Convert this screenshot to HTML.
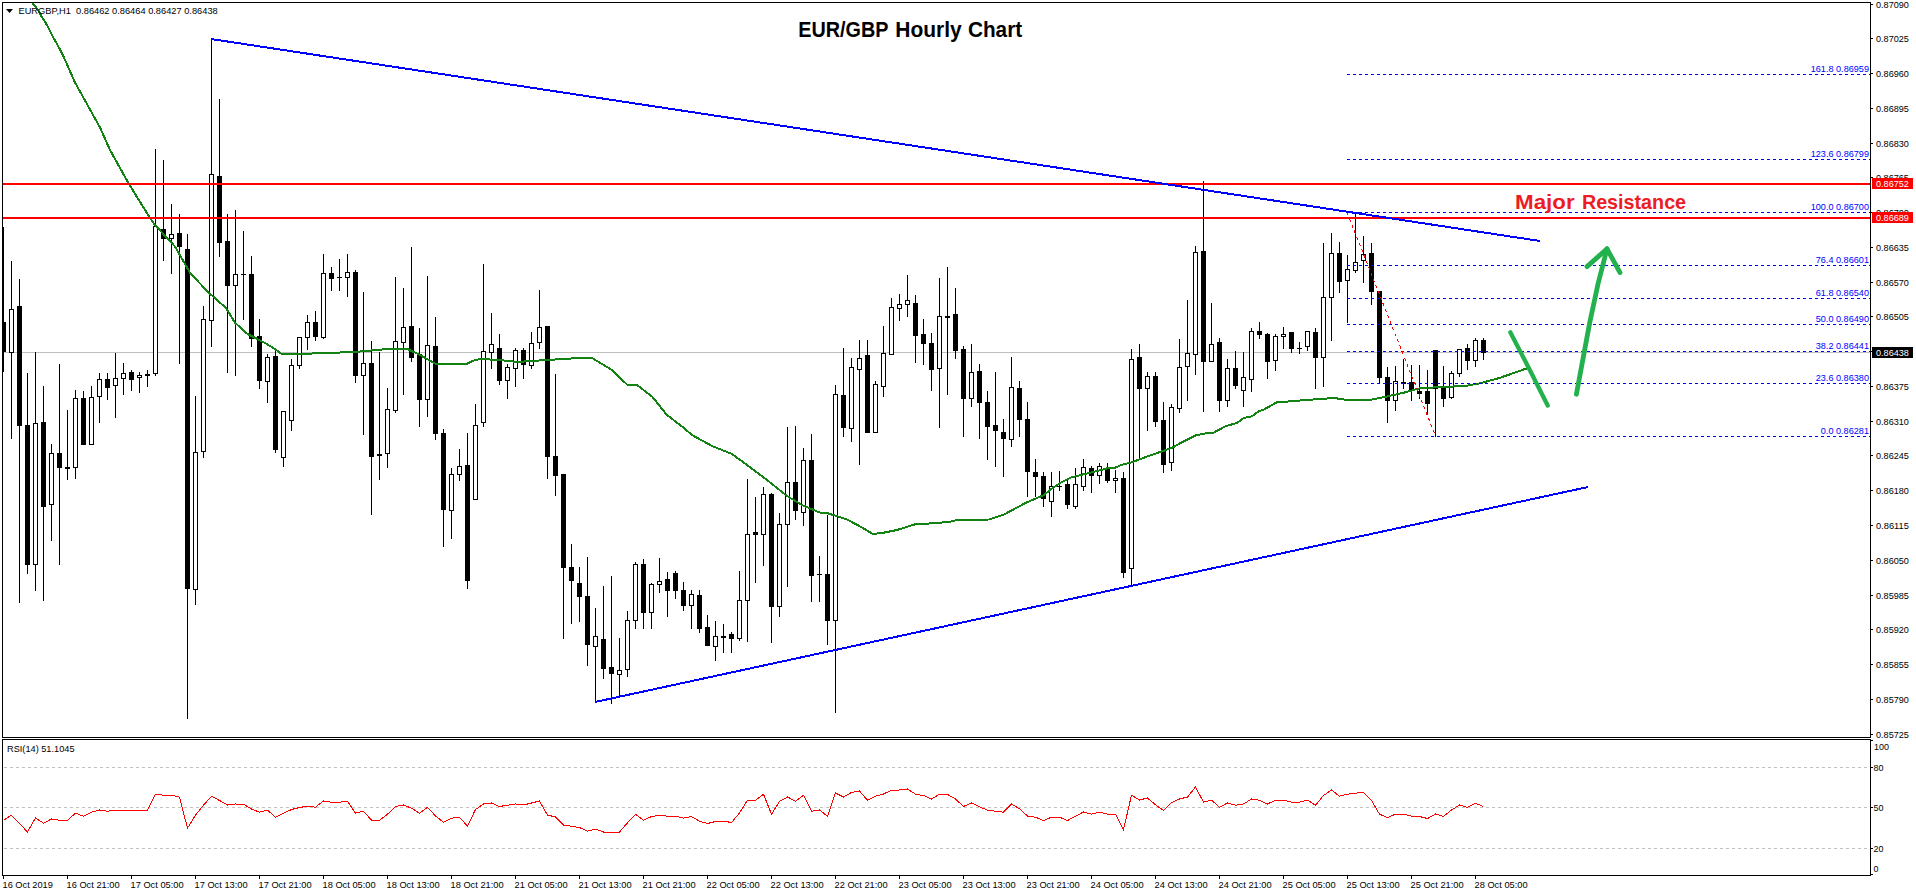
<!DOCTYPE html><html><head><meta charset="utf-8"><title>EUR/GBP Hourly Chart</title>
<style>html,body{margin:0;padding:0;background:#fff}svg{display:block}text{font-family:"Liberation Sans",sans-serif}.s{font-size:9.8px}</style></head><body>
<svg width="1916" height="896" viewBox="0 0 1916 896">
<rect width="1916" height="896" fill="#fff"/>
<defs><clipPath id="cm"><rect x="3" y="3" width="1867" height="734"/></clipPath></defs>
<g clip-path="url(#cm)" shape-rendering="crispEdges">
<rect x="3" y="352" width="1867" height="1" fill="#c0c0c0"/>
<rect x="3" y="227" width="1" height="145" fill="#000"/>
<rect x="1" y="322" width="5" height="30" fill="#000"/>
<rect x="11" y="261" width="1" height="178" fill="#000"/>
<rect x="9.5" y="309.5" width="4" height="43" fill="#fff" stroke="#000" stroke-width="1"/>
<rect x="19" y="279" width="1" height="324" fill="#000"/>
<rect x="17" y="306" width="5" height="120" fill="#000"/>
<rect x="27" y="373" width="1" height="201" fill="#000"/>
<rect x="25" y="425" width="5" height="140" fill="#000"/>
<rect x="35" y="352" width="1" height="239" fill="#000"/>
<rect x="33.5" y="423.5" width="4" height="141" fill="#fff" stroke="#000" stroke-width="1"/>
<rect x="43" y="386" width="1" height="215" fill="#000"/>
<rect x="41" y="422" width="5" height="85" fill="#000"/>
<rect x="51" y="444" width="1" height="97" fill="#000"/>
<rect x="49.5" y="453.5" width="4" height="51" fill="#fff" stroke="#000" stroke-width="1"/>
<rect x="59" y="364" width="1" height="201" fill="#000"/>
<rect x="57" y="453" width="5" height="15" fill="#000"/>
<rect x="67" y="410" width="1" height="70" fill="#000"/>
<rect x="65" y="467" width="5" height="2" fill="#000"/>
<rect x="75" y="390" width="1" height="89" fill="#000"/>
<rect x="73.5" y="398.5" width="4" height="69" fill="#fff" stroke="#000" stroke-width="1"/>
<rect x="83" y="391" width="1" height="54" fill="#000"/>
<rect x="81" y="398" width="5" height="47" fill="#000"/>
<rect x="91" y="386" width="1" height="59" fill="#000"/>
<rect x="89.5" y="397.5" width="4" height="47" fill="#fff" stroke="#000" stroke-width="1"/>
<rect x="99" y="373" width="1" height="50" fill="#000"/>
<rect x="97.5" y="379.5" width="4" height="17" fill="#fff" stroke="#000" stroke-width="1"/>
<rect x="107" y="373" width="1" height="27" fill="#000"/>
<rect x="105" y="379" width="5" height="9" fill="#000"/>
<rect x="115" y="353" width="1" height="65" fill="#000"/>
<rect x="113.5" y="378.5" width="4" height="7" fill="#fff" stroke="#000" stroke-width="1"/>
<rect x="123" y="363" width="1" height="32" fill="#000"/>
<rect x="121.5" y="373.5" width="4" height="5" fill="#fff" stroke="#000" stroke-width="1"/>
<rect x="131" y="370" width="1" height="21" fill="#000"/>
<rect x="129" y="372" width="5" height="8" fill="#000"/>
<rect x="139" y="372" width="1" height="21" fill="#000"/>
<rect x="137.5" y="375.5" width="4" height="2" fill="#fff" stroke="#000" stroke-width="1"/>
<rect x="147" y="370" width="1" height="17" fill="#000"/>
<rect x="145" y="374" width="5" height="2" fill="#000"/>
<rect x="155" y="149" width="1" height="227" fill="#000"/>
<rect x="153.5" y="226.5" width="4" height="147" fill="#fff" stroke="#000" stroke-width="1"/>
<rect x="163" y="160" width="1" height="101" fill="#000"/>
<rect x="161" y="229" width="5" height="10" fill="#000"/>
<rect x="171" y="204" width="1" height="70" fill="#000"/>
<rect x="169.5" y="234.5" width="4" height="4" fill="#fff" stroke="#000" stroke-width="1"/>
<rect x="179" y="214" width="1" height="150" fill="#000"/>
<rect x="177" y="233" width="5" height="14" fill="#000"/>
<rect x="187" y="234" width="1" height="485" fill="#000"/>
<rect x="185" y="249" width="5" height="340" fill="#000"/>
<rect x="195" y="396" width="1" height="209" fill="#000"/>
<rect x="193.5" y="452.5" width="4" height="137" fill="#fff" stroke="#000" stroke-width="1"/>
<rect x="203" y="306" width="1" height="152" fill="#000"/>
<rect x="201.5" y="319.5" width="4" height="132" fill="#fff" stroke="#000" stroke-width="1"/>
<rect x="211" y="38" width="1" height="309" fill="#000"/>
<rect x="209.5" y="174.5" width="4" height="146" fill="#fff" stroke="#000" stroke-width="1"/>
<rect x="219" y="99" width="1" height="158" fill="#000"/>
<rect x="217" y="176" width="5" height="67" fill="#000"/>
<rect x="227" y="214" width="1" height="159" fill="#000"/>
<rect x="225" y="241" width="5" height="45" fill="#000"/>
<rect x="235" y="210" width="1" height="166" fill="#000"/>
<rect x="233.5" y="274.5" width="4" height="11" fill="#fff" stroke="#000" stroke-width="1"/>
<rect x="243" y="231" width="1" height="89" fill="#000"/>
<rect x="241" y="274" width="5" height="1" fill="#000"/>
<rect x="251" y="256" width="1" height="91" fill="#000"/>
<rect x="249" y="274" width="5" height="65" fill="#000"/>
<rect x="259" y="319" width="1" height="70" fill="#000"/>
<rect x="257" y="336" width="5" height="45" fill="#000"/>
<rect x="267" y="354" width="1" height="49" fill="#000"/>
<rect x="265.5" y="357.5" width="4" height="24" fill="#fff" stroke="#000" stroke-width="1"/>
<rect x="275" y="348" width="1" height="105" fill="#000"/>
<rect x="273" y="356" width="5" height="94" fill="#000"/>
<rect x="283" y="411" width="1" height="56" fill="#000"/>
<rect x="281.5" y="411.5" width="4" height="46" fill="#fff" stroke="#000" stroke-width="1"/>
<rect x="291" y="359" width="1" height="72" fill="#000"/>
<rect x="289.5" y="365.5" width="4" height="55" fill="#fff" stroke="#000" stroke-width="1"/>
<rect x="299" y="337" width="1" height="32" fill="#000"/>
<rect x="297.5" y="337.5" width="4" height="28" fill="#fff" stroke="#000" stroke-width="1"/>
<rect x="307" y="315" width="1" height="35" fill="#000"/>
<rect x="305.5" y="322.5" width="4" height="15" fill="#fff" stroke="#000" stroke-width="1"/>
<rect x="315" y="311" width="1" height="30" fill="#000"/>
<rect x="313" y="322" width="5" height="15" fill="#000"/>
<rect x="323" y="254" width="1" height="85" fill="#000"/>
<rect x="321.5" y="273.5" width="4" height="64" fill="#fff" stroke="#000" stroke-width="1"/>
<rect x="331" y="267" width="1" height="24" fill="#000"/>
<rect x="329" y="273" width="5" height="6" fill="#000"/>
<rect x="339" y="259" width="1" height="32" fill="#000"/>
<rect x="337" y="277" width="5" height="1" fill="#000"/>
<rect x="347" y="254" width="1" height="43" fill="#000"/>
<rect x="345.5" y="272.5" width="4" height="5" fill="#fff" stroke="#000" stroke-width="1"/>
<rect x="355" y="270" width="1" height="113" fill="#000"/>
<rect x="353" y="272" width="5" height="104" fill="#000"/>
<rect x="363" y="292" width="1" height="143" fill="#000"/>
<rect x="361.5" y="363.5" width="4" height="12" fill="#fff" stroke="#000" stroke-width="1"/>
<rect x="371" y="341" width="1" height="174" fill="#000"/>
<rect x="369" y="363" width="5" height="94" fill="#000"/>
<rect x="379" y="352" width="1" height="128" fill="#000"/>
<rect x="377" y="454" width="5" height="2" fill="#000"/>
<rect x="387" y="388" width="1" height="80" fill="#000"/>
<rect x="385.5" y="409.5" width="4" height="44" fill="#fff" stroke="#000" stroke-width="1"/>
<rect x="395" y="277" width="1" height="136" fill="#000"/>
<rect x="393.5" y="341.5" width="4" height="69" fill="#fff" stroke="#000" stroke-width="1"/>
<rect x="403" y="288" width="1" height="107" fill="#000"/>
<rect x="401.5" y="327.5" width="4" height="15" fill="#fff" stroke="#000" stroke-width="1"/>
<rect x="411" y="247" width="1" height="115" fill="#000"/>
<rect x="409" y="326" width="5" height="32" fill="#000"/>
<rect x="419" y="328" width="1" height="99" fill="#000"/>
<rect x="417" y="354" width="5" height="46" fill="#000"/>
<rect x="427" y="276" width="1" height="141" fill="#000"/>
<rect x="425.5" y="345.5" width="4" height="54" fill="#fff" stroke="#000" stroke-width="1"/>
<rect x="435" y="317" width="1" height="123" fill="#000"/>
<rect x="433" y="346" width="5" height="88" fill="#000"/>
<rect x="443" y="429" width="1" height="118" fill="#000"/>
<rect x="441" y="433" width="5" height="77" fill="#000"/>
<rect x="451" y="468" width="1" height="71" fill="#000"/>
<rect x="449.5" y="474.5" width="4" height="36" fill="#fff" stroke="#000" stroke-width="1"/>
<rect x="459" y="449" width="1" height="32" fill="#000"/>
<rect x="457.5" y="466.5" width="4" height="8" fill="#fff" stroke="#000" stroke-width="1"/>
<rect x="467" y="433" width="1" height="156" fill="#000"/>
<rect x="465" y="465" width="5" height="116" fill="#000"/>
<rect x="475" y="404" width="1" height="96" fill="#000"/>
<rect x="473.5" y="425.5" width="4" height="74" fill="#fff" stroke="#000" stroke-width="1"/>
<rect x="483" y="264" width="1" height="163" fill="#000"/>
<rect x="481.5" y="351.5" width="4" height="71" fill="#fff" stroke="#000" stroke-width="1"/>
<rect x="491" y="313" width="1" height="56" fill="#000"/>
<rect x="489.5" y="344.5" width="4" height="8" fill="#fff" stroke="#000" stroke-width="1"/>
<rect x="499" y="334" width="1" height="51" fill="#000"/>
<rect x="497" y="348" width="5" height="33" fill="#000"/>
<rect x="507" y="364" width="1" height="35" fill="#000"/>
<rect x="505.5" y="367.5" width="4" height="13" fill="#fff" stroke="#000" stroke-width="1"/>
<rect x="515" y="348" width="1" height="39" fill="#000"/>
<rect x="513.5" y="350.5" width="4" height="18" fill="#fff" stroke="#000" stroke-width="1"/>
<rect x="523" y="348" width="1" height="31" fill="#000"/>
<rect x="521" y="350" width="5" height="15" fill="#000"/>
<rect x="531" y="332" width="1" height="37" fill="#000"/>
<rect x="529.5" y="343.5" width="4" height="22" fill="#fff" stroke="#000" stroke-width="1"/>
<rect x="539" y="290" width="1" height="59" fill="#000"/>
<rect x="537.5" y="327.5" width="4" height="15" fill="#fff" stroke="#000" stroke-width="1"/>
<rect x="547" y="326" width="1" height="153" fill="#000"/>
<rect x="545" y="326" width="5" height="131" fill="#000"/>
<rect x="555" y="374" width="1" height="122" fill="#000"/>
<rect x="553" y="456" width="5" height="20" fill="#000"/>
<rect x="563" y="474" width="1" height="165" fill="#000"/>
<rect x="561" y="474" width="5" height="94" fill="#000"/>
<rect x="571" y="544" width="1" height="80" fill="#000"/>
<rect x="569" y="567" width="5" height="14" fill="#000"/>
<rect x="579" y="567" width="1" height="55" fill="#000"/>
<rect x="577" y="583" width="5" height="14" fill="#000"/>
<rect x="587" y="557" width="1" height="109" fill="#000"/>
<rect x="585" y="596" width="5" height="49" fill="#000"/>
<rect x="595" y="608" width="1" height="95" fill="#000"/>
<rect x="593.5" y="636.5" width="4" height="10" fill="#fff" stroke="#000" stroke-width="1"/>
<rect x="603" y="586" width="1" height="93" fill="#000"/>
<rect x="601" y="639" width="5" height="30" fill="#000"/>
<rect x="611" y="576" width="1" height="128" fill="#000"/>
<rect x="609" y="667" width="5" height="7" fill="#000"/>
<rect x="619" y="638" width="1" height="59" fill="#000"/>
<rect x="617.5" y="670.5" width="4" height="4" fill="#fff" stroke="#000" stroke-width="1"/>
<rect x="627" y="611" width="1" height="66" fill="#000"/>
<rect x="625.5" y="620.5" width="4" height="49" fill="#fff" stroke="#000" stroke-width="1"/>
<rect x="635" y="562" width="1" height="67" fill="#000"/>
<rect x="633.5" y="564.5" width="4" height="56" fill="#fff" stroke="#000" stroke-width="1"/>
<rect x="643" y="559" width="1" height="70" fill="#000"/>
<rect x="641" y="564" width="5" height="49" fill="#000"/>
<rect x="651" y="583" width="1" height="46" fill="#000"/>
<rect x="649.5" y="584.5" width="4" height="28" fill="#fff" stroke="#000" stroke-width="1"/>
<rect x="659" y="558" width="1" height="35" fill="#000"/>
<rect x="657.5" y="581.5" width="4" height="3" fill="#fff" stroke="#000" stroke-width="1"/>
<rect x="667" y="572" width="1" height="45" fill="#000"/>
<rect x="665" y="579" width="5" height="12" fill="#000"/>
<rect x="675" y="571" width="1" height="28" fill="#000"/>
<rect x="673" y="573" width="5" height="18" fill="#000"/>
<rect x="683" y="582" width="1" height="29" fill="#000"/>
<rect x="681" y="590" width="5" height="16" fill="#000"/>
<rect x="691" y="590" width="1" height="39" fill="#000"/>
<rect x="689.5" y="594.5" width="4" height="11" fill="#fff" stroke="#000" stroke-width="1"/>
<rect x="699" y="590" width="1" height="43" fill="#000"/>
<rect x="697" y="595" width="5" height="34" fill="#000"/>
<rect x="707" y="615" width="1" height="31" fill="#000"/>
<rect x="705" y="627" width="5" height="19" fill="#000"/>
<rect x="715" y="621" width="1" height="40" fill="#000"/>
<rect x="713.5" y="636.5" width="4" height="10" fill="#fff" stroke="#000" stroke-width="1"/>
<rect x="723" y="624" width="1" height="29" fill="#000"/>
<rect x="721" y="636" width="5" height="2" fill="#000"/>
<rect x="731" y="632" width="1" height="21" fill="#000"/>
<rect x="729" y="634" width="5" height="5" fill="#000"/>
<rect x="739" y="571" width="1" height="70" fill="#000"/>
<rect x="737.5" y="600.5" width="4" height="38" fill="#fff" stroke="#000" stroke-width="1"/>
<rect x="747" y="479" width="1" height="163" fill="#000"/>
<rect x="745.5" y="534.5" width="4" height="66" fill="#fff" stroke="#000" stroke-width="1"/>
<rect x="755" y="497" width="1" height="86" fill="#000"/>
<rect x="753" y="532" width="5" height="3" fill="#000"/>
<rect x="763" y="487" width="1" height="79" fill="#000"/>
<rect x="761.5" y="494.5" width="4" height="40" fill="#fff" stroke="#000" stroke-width="1"/>
<rect x="771" y="493" width="1" height="150" fill="#000"/>
<rect x="769" y="494" width="5" height="113" fill="#000"/>
<rect x="779" y="513" width="1" height="104" fill="#000"/>
<rect x="777.5" y="524.5" width="4" height="82" fill="#fff" stroke="#000" stroke-width="1"/>
<rect x="787" y="427" width="1" height="160" fill="#000"/>
<rect x="785.5" y="482.5" width="4" height="42" fill="#fff" stroke="#000" stroke-width="1"/>
<rect x="795" y="426" width="1" height="94" fill="#000"/>
<rect x="793" y="482" width="5" height="29" fill="#000"/>
<rect x="803" y="448" width="1" height="78" fill="#000"/>
<rect x="801.5" y="460.5" width="4" height="52" fill="#fff" stroke="#000" stroke-width="1"/>
<rect x="811" y="434" width="1" height="168" fill="#000"/>
<rect x="809" y="460" width="5" height="116" fill="#000"/>
<rect x="819" y="556" width="1" height="46" fill="#000"/>
<rect x="817" y="574" width="5" height="1" fill="#000"/>
<rect x="827" y="515" width="1" height="130" fill="#000"/>
<rect x="825" y="574" width="5" height="47" fill="#000"/>
<rect x="835" y="385" width="1" height="328" fill="#000"/>
<rect x="833.5" y="394.5" width="4" height="226" fill="#fff" stroke="#000" stroke-width="1"/>
<rect x="843" y="348" width="1" height="89" fill="#000"/>
<rect x="841" y="395" width="5" height="33" fill="#000"/>
<rect x="851" y="358" width="1" height="84" fill="#000"/>
<rect x="849.5" y="367.5" width="4" height="61" fill="#fff" stroke="#000" stroke-width="1"/>
<rect x="859" y="340" width="1" height="125" fill="#000"/>
<rect x="857.5" y="358.5" width="4" height="11" fill="#fff" stroke="#000" stroke-width="1"/>
<rect x="867" y="340" width="1" height="93" fill="#000"/>
<rect x="865" y="355" width="5" height="78" fill="#000"/>
<rect x="875" y="381" width="1" height="52" fill="#000"/>
<rect x="873.5" y="384.5" width="4" height="48" fill="#fff" stroke="#000" stroke-width="1"/>
<rect x="883" y="326" width="1" height="71" fill="#000"/>
<rect x="881.5" y="353.5" width="4" height="33" fill="#fff" stroke="#000" stroke-width="1"/>
<rect x="891" y="298" width="1" height="57" fill="#000"/>
<rect x="889.5" y="307.5" width="4" height="47" fill="#fff" stroke="#000" stroke-width="1"/>
<rect x="899" y="294" width="1" height="27" fill="#000"/>
<rect x="897.5" y="304.5" width="4" height="4" fill="#fff" stroke="#000" stroke-width="1"/>
<rect x="907" y="275" width="1" height="42" fill="#000"/>
<rect x="905.5" y="300.5" width="4" height="4" fill="#fff" stroke="#000" stroke-width="1"/>
<rect x="915" y="295" width="1" height="68" fill="#000"/>
<rect x="913" y="303" width="5" height="33" fill="#000"/>
<rect x="923" y="319" width="1" height="46" fill="#000"/>
<rect x="921" y="334" width="5" height="10" fill="#000"/>
<rect x="931" y="333" width="1" height="58" fill="#000"/>
<rect x="929" y="343" width="5" height="27" fill="#000"/>
<rect x="939" y="278" width="1" height="150" fill="#000"/>
<rect x="937.5" y="316.5" width="4" height="52" fill="#fff" stroke="#000" stroke-width="1"/>
<rect x="947" y="267" width="1" height="128" fill="#000"/>
<rect x="945" y="316" width="5" height="2" fill="#000"/>
<rect x="955" y="288" width="1" height="71" fill="#000"/>
<rect x="953" y="314" width="5" height="37" fill="#000"/>
<rect x="963" y="346" width="1" height="91" fill="#000"/>
<rect x="961" y="349" width="5" height="50" fill="#000"/>
<rect x="971" y="344" width="1" height="63" fill="#000"/>
<rect x="969.5" y="372.5" width="4" height="26" fill="#fff" stroke="#000" stroke-width="1"/>
<rect x="979" y="364" width="1" height="75" fill="#000"/>
<rect x="977" y="371" width="5" height="32" fill="#000"/>
<rect x="987" y="391" width="1" height="69" fill="#000"/>
<rect x="985" y="402" width="5" height="25" fill="#000"/>
<rect x="995" y="372" width="1" height="95" fill="#000"/>
<rect x="993" y="425" width="5" height="6" fill="#000"/>
<rect x="1003" y="419" width="1" height="58" fill="#000"/>
<rect x="1001" y="432" width="5" height="7" fill="#000"/>
<rect x="1011" y="357" width="1" height="90" fill="#000"/>
<rect x="1009.5" y="387.5" width="4" height="52" fill="#fff" stroke="#000" stroke-width="1"/>
<rect x="1019" y="381" width="1" height="56" fill="#000"/>
<rect x="1017" y="388" width="5" height="32" fill="#000"/>
<rect x="1027" y="402" width="1" height="95" fill="#000"/>
<rect x="1025" y="419" width="5" height="53" fill="#000"/>
<rect x="1035" y="459" width="1" height="38" fill="#000"/>
<rect x="1033" y="472" width="5" height="5" fill="#000"/>
<rect x="1043" y="472" width="1" height="35" fill="#000"/>
<rect x="1041" y="476" width="5" height="23" fill="#000"/>
<rect x="1051" y="472" width="1" height="45" fill="#000"/>
<rect x="1049.5" y="486.5" width="4" height="15" fill="#fff" stroke="#000" stroke-width="1"/>
<rect x="1059" y="471" width="1" height="20" fill="#000"/>
<rect x="1057" y="486" width="5" height="1" fill="#000"/>
<rect x="1067" y="478" width="1" height="31" fill="#000"/>
<rect x="1065" y="484" width="5" height="21" fill="#000"/>
<rect x="1075" y="468" width="1" height="41" fill="#000"/>
<rect x="1073.5" y="484.5" width="4" height="22" fill="#fff" stroke="#000" stroke-width="1"/>
<rect x="1083" y="459" width="1" height="32" fill="#000"/>
<rect x="1081.5" y="467.5" width="4" height="19" fill="#fff" stroke="#000" stroke-width="1"/>
<rect x="1091" y="466" width="1" height="27" fill="#000"/>
<rect x="1089" y="468" width="5" height="8" fill="#000"/>
<rect x="1099" y="463" width="1" height="21" fill="#000"/>
<rect x="1097.5" y="466.5" width="4" height="9" fill="#fff" stroke="#000" stroke-width="1"/>
<rect x="1107" y="463" width="1" height="20" fill="#000"/>
<rect x="1105" y="468" width="5" height="13" fill="#000"/>
<rect x="1115" y="470" width="1" height="23" fill="#000"/>
<rect x="1113.5" y="478.5" width="4" height="2" fill="#fff" stroke="#000" stroke-width="1"/>
<rect x="1123" y="472" width="1" height="106" fill="#000"/>
<rect x="1121" y="478" width="5" height="95" fill="#000"/>
<rect x="1131" y="349" width="1" height="238" fill="#000"/>
<rect x="1129.5" y="359.5" width="4" height="209" fill="#fff" stroke="#000" stroke-width="1"/>
<rect x="1139" y="344" width="1" height="116" fill="#000"/>
<rect x="1137" y="357" width="5" height="32" fill="#000"/>
<rect x="1147" y="372" width="1" height="59" fill="#000"/>
<rect x="1145.5" y="376.5" width="4" height="12" fill="#fff" stroke="#000" stroke-width="1"/>
<rect x="1155" y="372" width="1" height="55" fill="#000"/>
<rect x="1153" y="376" width="5" height="46" fill="#000"/>
<rect x="1163" y="402" width="1" height="71" fill="#000"/>
<rect x="1161" y="420" width="5" height="45" fill="#000"/>
<rect x="1171" y="404" width="1" height="67" fill="#000"/>
<rect x="1169.5" y="407.5" width="4" height="55" fill="#fff" stroke="#000" stroke-width="1"/>
<rect x="1179" y="339" width="1" height="74" fill="#000"/>
<rect x="1177.5" y="367.5" width="4" height="41" fill="#fff" stroke="#000" stroke-width="1"/>
<rect x="1187" y="300" width="1" height="101" fill="#000"/>
<rect x="1185.5" y="353.5" width="4" height="13" fill="#fff" stroke="#000" stroke-width="1"/>
<rect x="1195" y="246" width="1" height="129" fill="#000"/>
<rect x="1193.5" y="252.5" width="4" height="102" fill="#fff" stroke="#000" stroke-width="1"/>
<rect x="1203" y="181" width="1" height="231" fill="#000"/>
<rect x="1201" y="251" width="5" height="111" fill="#000"/>
<rect x="1211" y="303" width="1" height="59" fill="#000"/>
<rect x="1209.5" y="344.5" width="4" height="17" fill="#fff" stroke="#000" stroke-width="1"/>
<rect x="1219" y="338" width="1" height="74" fill="#000"/>
<rect x="1217" y="342" width="5" height="59" fill="#000"/>
<rect x="1227" y="359" width="1" height="48" fill="#000"/>
<rect x="1225.5" y="368.5" width="4" height="32" fill="#fff" stroke="#000" stroke-width="1"/>
<rect x="1235" y="351" width="1" height="38" fill="#000"/>
<rect x="1233" y="368" width="5" height="18" fill="#000"/>
<rect x="1243" y="352" width="1" height="55" fill="#000"/>
<rect x="1241.5" y="377.5" width="4" height="13" fill="#fff" stroke="#000" stroke-width="1"/>
<rect x="1251" y="328" width="1" height="64" fill="#000"/>
<rect x="1249.5" y="331.5" width="4" height="48" fill="#fff" stroke="#000" stroke-width="1"/>
<rect x="1259" y="322" width="1" height="17" fill="#000"/>
<rect x="1257" y="331" width="5" height="4" fill="#000"/>
<rect x="1267" y="333" width="1" height="46" fill="#000"/>
<rect x="1265" y="334" width="5" height="28" fill="#000"/>
<rect x="1275" y="334" width="1" height="37" fill="#000"/>
<rect x="1273.5" y="336.5" width="4" height="24" fill="#fff" stroke="#000" stroke-width="1"/>
<rect x="1283" y="327" width="1" height="22" fill="#000"/>
<rect x="1281.5" y="334.5" width="4" height="2" fill="#fff" stroke="#000" stroke-width="1"/>
<rect x="1291" y="332" width="1" height="21" fill="#000"/>
<rect x="1289" y="332" width="5" height="17" fill="#000"/>
<rect x="1299" y="342" width="1" height="12" fill="#000"/>
<rect x="1297" y="348" width="5" height="1" fill="#000"/>
<rect x="1307" y="331" width="1" height="20" fill="#000"/>
<rect x="1305.5" y="331.5" width="4" height="15" fill="#fff" stroke="#000" stroke-width="1"/>
<rect x="1315" y="328" width="1" height="61" fill="#000"/>
<rect x="1313" y="332" width="5" height="26" fill="#000"/>
<rect x="1323" y="243" width="1" height="144" fill="#000"/>
<rect x="1321.5" y="297.5" width="4" height="60" fill="#fff" stroke="#000" stroke-width="1"/>
<rect x="1331" y="233" width="1" height="108" fill="#000"/>
<rect x="1329.5" y="253.5" width="4" height="44" fill="#fff" stroke="#000" stroke-width="1"/>
<rect x="1339" y="242" width="1" height="51" fill="#000"/>
<rect x="1337" y="253" width="5" height="29" fill="#000"/>
<rect x="1347" y="255" width="1" height="68" fill="#000"/>
<rect x="1345.5" y="269.5" width="4" height="11" fill="#fff" stroke="#000" stroke-width="1"/>
<rect x="1355" y="214" width="1" height="59" fill="#000"/>
<rect x="1353.5" y="262.5" width="4" height="8" fill="#fff" stroke="#000" stroke-width="1"/>
<rect x="1363" y="236" width="1" height="47" fill="#000"/>
<rect x="1361.5" y="254.5" width="4" height="6" fill="#fff" stroke="#000" stroke-width="1"/>
<rect x="1371" y="243" width="1" height="62" fill="#000"/>
<rect x="1369" y="253" width="5" height="39" fill="#000"/>
<rect x="1379" y="291" width="1" height="93" fill="#000"/>
<rect x="1377" y="291" width="5" height="87" fill="#000"/>
<rect x="1387" y="367" width="1" height="56" fill="#000"/>
<rect x="1385" y="377" width="5" height="24" fill="#000"/>
<rect x="1395" y="366" width="1" height="45" fill="#000"/>
<rect x="1393.5" y="381.5" width="4" height="19" fill="#fff" stroke="#000" stroke-width="1"/>
<rect x="1403" y="359" width="1" height="30" fill="#000"/>
<rect x="1401" y="382" width="5" height="2" fill="#000"/>
<rect x="1411" y="365" width="1" height="36" fill="#000"/>
<rect x="1409" y="382" width="5" height="9" fill="#000"/>
<rect x="1419" y="365" width="1" height="34" fill="#000"/>
<rect x="1417" y="391" width="5" height="3" fill="#000"/>
<rect x="1427" y="370" width="1" height="45" fill="#000"/>
<rect x="1425" y="391" width="5" height="13" fill="#000"/>
<rect x="1435" y="350" width="1" height="87" fill="#000"/>
<rect x="1433" y="350" width="5" height="39" fill="#000"/>
<rect x="1443" y="366" width="1" height="41" fill="#000"/>
<rect x="1441" y="386" width="5" height="13" fill="#000"/>
<rect x="1451" y="371" width="1" height="28" fill="#000"/>
<rect x="1449.5" y="373.5" width="4" height="24" fill="#fff" stroke="#000" stroke-width="1"/>
<rect x="1459" y="349" width="1" height="28" fill="#000"/>
<rect x="1457.5" y="349.5" width="4" height="24" fill="#fff" stroke="#000" stroke-width="1"/>
<rect x="1467" y="344" width="1" height="26" fill="#000"/>
<rect x="1465" y="348" width="5" height="13" fill="#000"/>
<rect x="1475" y="338" width="1" height="29" fill="#000"/>
<rect x="1473.5" y="340.5" width="4" height="20" fill="#fff" stroke="#000" stroke-width="1"/>
<rect x="1483" y="338" width="1" height="22" fill="#000"/>
<rect x="1481" y="340" width="5" height="13" fill="#000"/>
<polyline points="32.0,2.5 37.6,9.4 42.6,18.2 47.0,25.0 52.6,36.3 57.6,45.1 63.3,56.0 75.0,82.5 100.0,127.5 110.0,150.0 128.8,183.8 150.0,218.0 155.0,225.0 175.0,246.5 190.0,272.8 207.5,291.5 226.0,308.0 235.0,322.8 247.5,334.0 265.0,343.0 275.0,349.0 282.5,354.5 300.0,354.0 325.0,353.0 355.0,352.0 387.5,349.0 407.5,349.0 420.0,355.0 435.0,363.5 467.5,363.5 472.5,361.0 479.5,359.0 500.0,360.0 517.0,362.0 547.0,360.0 579.5,358.0 592.0,358.0 612.0,370.0 627.0,384.5 637.0,385.0 652.0,396.5 667.0,415.0 682.0,426.5 692.0,435.0 712.0,446.0 732.0,454.0 747.0,465.0 767.0,480.0 787.0,496.0 802.0,505.0 819.5,512.5 827.0,513.0 847.0,519.5 862.0,527.5 873.0,534.0 882.0,533.0 897.0,530.0 914.5,524.5 937.0,523.0 951.0,521.5 956.5,520.0 989.0,519.5 1004.0,514.5 1026.5,502.5 1044.0,495.0 1051.2,489.0 1061.3,482.4 1071.3,477.4 1081.4,474.8 1094.8,471.5 1108.2,468.1 1114.9,467.8 1121.6,464.8 1131.6,462.3 1145.0,457.3 1161.8,451.4 1171.8,448.0 1181.9,442.2 1195.3,435.5 1205.3,433.5 1213.7,432.6 1225.4,426.3 1237.1,422.9 1243.8,417.9 1252.2,416.2 1258.9,411.2 1264.0,409.5 1276.5,402.5 1306.5,400.0 1334.0,398.0 1347.7,400.0 1371.0,399.7 1386.0,396.7 1403.0,392.9 1419.8,388.3 1436.5,387.3 1453.0,386.5 1466.7,385.7 1480.0,383.3 1500.0,377.8 1528.5,367.8" fill="none" stroke="#128212" stroke-width="2" stroke-linejoin="round"/>
<rect x="3" y="183" width="1867" height="2" fill="#ff0000"/>
<rect x="3" y="217" width="1867" height="2" fill="#ff0000"/>
<line x1="1347" y1="74.5" x2="1870" y2="74.5" stroke="#0000ff" stroke-width="1" stroke-dasharray="3,3"/>
<line x1="1347" y1="159.5" x2="1870" y2="159.5" stroke="#0000ff" stroke-width="1" stroke-dasharray="3,3"/>
<line x1="1347" y1="212.5" x2="1870" y2="212.5" stroke="#0000ff" stroke-width="1" stroke-dasharray="3,3"/>
<line x1="1347" y1="265.5" x2="1870" y2="265.5" stroke="#0000ff" stroke-width="1" stroke-dasharray="3,3"/>
<line x1="1347" y1="298.5" x2="1870" y2="298.5" stroke="#0000ff" stroke-width="1" stroke-dasharray="3,3"/>
<line x1="1347" y1="324.5" x2="1870" y2="324.5" stroke="#0000ff" stroke-width="1" stroke-dasharray="3,3"/>
<line x1="1347" y1="351.5" x2="1870" y2="351.5" stroke="#0000ff" stroke-width="1" stroke-dasharray="3,3"/>
<line x1="1347" y1="383.5" x2="1870" y2="383.5" stroke="#0000ff" stroke-width="1" stroke-dasharray="3,3"/>
<line x1="1347" y1="436.5" x2="1870" y2="436.5" stroke="#0000ff" stroke-width="1" stroke-dasharray="3,3"/>
<line x1="1347" y1="212.5" x2="1435.5" y2="436" stroke="#ff0000" stroke-width="1" stroke-dasharray="3.2,3.3"/>
<line x1="211" y1="39" x2="1540" y2="241" stroke="#0000ff" stroke-width="2"/>
<line x1="595" y1="702" x2="1588" y2="487" stroke="#0000ff" stroke-width="2"/>
</g>
<text x="1810.7" y="71.7" fill="#0000ff" class="s" textLength="58.3" lengthAdjust="spacingAndGlyphs">161.8 0.86959</text>
<text x="1810.7" y="156.7" fill="#0000ff" class="s" textLength="58.3" lengthAdjust="spacingAndGlyphs">123.6 0.86799</text>
<text x="1810.7" y="209.7" fill="#0000ff" class="s" textLength="58.3" lengthAdjust="spacingAndGlyphs">100.0 0.86700</text>
<text x="1815.7" y="262.7" fill="#0000ff" class="s" textLength="53.3" lengthAdjust="spacingAndGlyphs">76.4 0.86601</text>
<text x="1815.7" y="295.7" fill="#0000ff" class="s" textLength="53.3" lengthAdjust="spacingAndGlyphs">61.8 0.86540</text>
<text x="1815.7" y="321.7" fill="#0000ff" class="s" textLength="53.3" lengthAdjust="spacingAndGlyphs">50.0 0.86490</text>
<text x="1815.7" y="348.7" fill="#0000ff" class="s" textLength="53.3" lengthAdjust="spacingAndGlyphs">38.2 0.86441</text>
<text x="1815.7" y="380.7" fill="#0000ff" class="s" textLength="53.3" lengthAdjust="spacingAndGlyphs">23.6 0.86380</text>
<text x="1820.8" y="433.7" fill="#0000ff" class="s" textLength="48.2" lengthAdjust="spacingAndGlyphs">0.0 0.86281</text>
<g fill="none" stroke="#22b14c" stroke-width="4.3" stroke-linecap="round" stroke-linejoin="round">
<path d="M1510.3 332.3 L1529.3 369 L1547.7 405.5"/>
<path d="M1576.4 394.2 L1589.6 323.2 L1598 284 L1607 248.8" stroke-width="4.8"/>
<path d="M1587 266.6 L1607 248.8 L1620 272.6" stroke-width="4.8"/>
</g>
<text x="798.3" y="36.5" font-size="21.5px" font-weight="bold" fill="#000" textLength="90.2" lengthAdjust="spacingAndGlyphs">EUR/GBP</text>
<text x="895.3" y="36.5" font-size="21.5px" font-weight="bold" fill="#000" textLength="66.5" lengthAdjust="spacingAndGlyphs">Hourly</text>
<text x="967.9" y="36.5" font-size="21.5px" font-weight="bold" fill="#000" textLength="54.3" lengthAdjust="spacingAndGlyphs">Chart</text>
<text x="1515.1" y="208.5" font-size="21px" font-weight="bold" fill="#ed1c24" textLength="59.5" lengthAdjust="spacingAndGlyphs">Major</text>
<text x="1581.9" y="208.5" font-size="21px" font-weight="bold" fill="#ed1c24" textLength="104.2" lengthAdjust="spacingAndGlyphs">Resistance</text>
<path d="M6 9 H13 L9.5 13 Z" fill="#000"/>
<text x="18.5" y="13.7" fill="#000" class="s" textLength="199.2" lengthAdjust="spacingAndGlyphs" xml:space="preserve" style="white-space:pre">EURGBP,H1  0.86462 0.86464 0.86427 0.86438</text>
<g shape-rendering="crispEdges" fill="#000">
<rect x="2" y="2" width="1869" height="1"/>
<rect x="2" y="2" width="1" height="874"/>
<rect x="1870" y="2" width="1" height="874"/>
<rect x="2" y="737" width="1869" height="1"/>
<rect x="2" y="738" width="1869" height="1" fill="#fff"/>
<rect x="2" y="739" width="1869" height="1"/>
<rect x="2" y="875" width="1869" height="1"/>
<rect x="1871" y="4" width="2" height="1"/>
<rect x="1871" y="38" width="2" height="1"/>
<rect x="1871" y="73" width="2" height="1"/>
<rect x="1871" y="108" width="2" height="1"/>
<rect x="1871" y="143" width="2" height="1"/>
<rect x="1871" y="177" width="2" height="1"/>
<rect x="1871" y="212" width="2" height="1"/>
<rect x="1871" y="247" width="2" height="1"/>
<rect x="1871" y="282" width="2" height="1"/>
<rect x="1871" y="316" width="2" height="1"/>
<rect x="1871" y="351" width="2" height="1"/>
<rect x="1871" y="386" width="2" height="1"/>
<rect x="1871" y="421" width="2" height="1"/>
<rect x="1871" y="455" width="2" height="1"/>
<rect x="1871" y="490" width="2" height="1"/>
<rect x="1871" y="525" width="2" height="1"/>
<rect x="1871" y="560" width="2" height="1"/>
<rect x="1871" y="595" width="2" height="1"/>
<rect x="1871" y="629" width="2" height="1"/>
<rect x="1871" y="664" width="2" height="1"/>
<rect x="1871" y="699" width="2" height="1"/>
<rect x="1871" y="734" width="2" height="1"/>
<rect x="1871" y="740" width="2" height="1"/>
<rect x="1871" y="767" width="2" height="1"/>
<rect x="1871" y="807" width="2" height="1"/>
<rect x="1871" y="848" width="2" height="1"/>
<rect x="1871" y="874" width="2" height="1"/>
</g>
<text x="1876" y="8" fill="#000" class="s" textLength="32.9" lengthAdjust="spacingAndGlyphs">0.87090</text>
<text x="1876" y="42" fill="#000" class="s" textLength="32.9" lengthAdjust="spacingAndGlyphs">0.87025</text>
<text x="1876" y="77" fill="#000" class="s" textLength="32.9" lengthAdjust="spacingAndGlyphs">0.86960</text>
<text x="1876" y="112" fill="#000" class="s" textLength="32.9" lengthAdjust="spacingAndGlyphs">0.86895</text>
<text x="1876" y="147" fill="#000" class="s" textLength="32.9" lengthAdjust="spacingAndGlyphs">0.86830</text>
<text x="1876" y="181" fill="#000" class="s" textLength="32.9" lengthAdjust="spacingAndGlyphs">0.86765</text>
<text x="1876" y="216" fill="#000" class="s" textLength="32.9" lengthAdjust="spacingAndGlyphs">0.86700</text>
<text x="1876" y="251" fill="#000" class="s" textLength="32.9" lengthAdjust="spacingAndGlyphs">0.86635</text>
<text x="1876" y="286" fill="#000" class="s" textLength="32.9" lengthAdjust="spacingAndGlyphs">0.86570</text>
<text x="1876" y="320" fill="#000" class="s" textLength="32.9" lengthAdjust="spacingAndGlyphs">0.86505</text>
<text x="1876" y="355" fill="#000" class="s" textLength="32.9" lengthAdjust="spacingAndGlyphs">0.86440</text>
<text x="1876" y="390" fill="#000" class="s" textLength="32.9" lengthAdjust="spacingAndGlyphs">0.86375</text>
<text x="1876" y="425" fill="#000" class="s" textLength="32.9" lengthAdjust="spacingAndGlyphs">0.86310</text>
<text x="1876" y="459" fill="#000" class="s" textLength="32.9" lengthAdjust="spacingAndGlyphs">0.86245</text>
<text x="1876" y="494" fill="#000" class="s" textLength="32.9" lengthAdjust="spacingAndGlyphs">0.86180</text>
<text x="1876" y="529" fill="#000" class="s" textLength="32.9" lengthAdjust="spacingAndGlyphs">0.86115</text>
<text x="1876" y="564" fill="#000" class="s" textLength="32.9" lengthAdjust="spacingAndGlyphs">0.86050</text>
<text x="1876" y="599" fill="#000" class="s" textLength="32.9" lengthAdjust="spacingAndGlyphs">0.85985</text>
<text x="1876" y="633" fill="#000" class="s" textLength="32.9" lengthAdjust="spacingAndGlyphs">0.85920</text>
<text x="1876" y="668" fill="#000" class="s" textLength="32.9" lengthAdjust="spacingAndGlyphs">0.85855</text>
<text x="1876" y="703" fill="#000" class="s" textLength="32.9" lengthAdjust="spacingAndGlyphs">0.85790</text>
<text x="1876" y="738" fill="#000" class="s" textLength="32.9" lengthAdjust="spacingAndGlyphs">0.85725</text>
<rect x="1872" y="178" width="41" height="11" fill="#ff0000" shape-rendering="crispEdges"/>
<text x="1876" y="187.3" fill="#fff" class="s" textLength="32.9" lengthAdjust="spacingAndGlyphs">0.86752</text>
<rect x="1872" y="212" width="41" height="11" fill="#ff0000" shape-rendering="crispEdges"/>
<text x="1876" y="221.3" fill="#fff" class="s" textLength="32.9" lengthAdjust="spacingAndGlyphs">0.86689</text>
<rect x="1872" y="347" width="41" height="11" fill="#000" shape-rendering="crispEdges"/>
<text x="1876" y="356.3" fill="#fff" class="s" textLength="32.9" lengthAdjust="spacingAndGlyphs">0.86438</text>
<g shape-rendering="crispEdges">
<line x1="4" y1="767.5" x2="1868" y2="767.5" stroke="#c0c0c0" stroke-width="1" stroke-dasharray="3,3"/>
<line x1="4" y1="807.5" x2="1868" y2="807.5" stroke="#c0c0c0" stroke-width="1" stroke-dasharray="3,3"/>
<line x1="4" y1="848.5" x2="1868" y2="848.5" stroke="#c0c0c0" stroke-width="1" stroke-dasharray="3,3"/>
<polyline points="3.5,820.2 11.5,815.2 19.5,823.5 27.5,832.0 35.5,818.0 43.5,823.2 51.5,819.0 59.5,820.2 67.5,820.2 75.5,813.2 83.5,816.2 91.5,812.2 99.5,810.0 107.5,811.2 115.5,810.2 123.5,810.2 131.5,810.2 139.5,810.2 147.5,810.2 155.5,794.2 163.5,795.2 171.5,795.2 179.5,797.2 187.5,828.2 195.5,815.2 203.5,805.2 211.5,796.2 219.5,800.5 227.5,805.0 235.5,804.0 243.5,804.2 251.5,809.0 259.5,812.2 267.5,810.2 275.5,817.2 283.5,813.2 291.5,809.5 299.5,807.5 307.5,806.2 315.5,807.2 323.5,801.0 331.5,802.2 339.5,802.2 347.5,801.2 355.5,813.2 363.5,811.2 371.5,820.2 379.5,820.2 387.5,814.2 395.5,806.5 403.5,805.0 411.5,808.2 419.5,813.2 427.5,807.2 435.5,816.0 443.5,822.2 451.5,818.2 459.5,817.2 467.5,826.2 475.5,809.5 483.5,804.0 491.5,803.0 499.5,806.5 507.5,805.2 515.5,804.0 523.5,805.0 531.5,803.0 539.5,801.0 547.5,815.0 555.5,817.0 563.5,825.0 571.5,826.2 579.5,827.5 587.5,831.2 595.5,829.2 603.5,832.0 611.5,832.0 619.5,832.0 627.5,822.8 635.5,814.2 643.5,820.2 651.5,816.5 659.5,815.2 667.5,816.2 675.5,816.2 683.5,818.2 691.5,816.5 699.5,821.2 707.5,823.5 715.5,821.5 723.5,821.2 731.5,822.5 739.5,813.0 747.5,800.2 755.5,800.2 763.5,794.2 771.5,814.2 779.5,801.5 787.5,797.0 795.5,801.2 803.5,795.2 811.5,811.2 819.5,810.0 827.5,816.2 835.5,793.0 843.5,797.0 851.5,792.5 859.5,791.0 867.5,800.2 875.5,796.2 883.5,794.0 891.5,790.2 899.5,790.0 907.5,789.0 915.5,794.2 923.5,795.5 931.5,799.0 939.5,794.2 947.5,794.5 955.5,799.0 963.5,806.5 971.5,803.0 979.5,806.8 987.5,810.2 995.5,811.2 1003.5,812.2 1011.5,804.0 1019.5,808.8 1027.5,816.0 1035.5,817.2 1043.5,820.5 1051.5,817.2 1059.5,817.2 1067.5,820.5 1075.5,816.2 1083.5,812.0 1091.5,814.2 1099.5,812.2 1107.5,814.2 1115.5,814.2 1123.5,829.5 1131.5,795.2 1139.5,800.0 1147.5,798.0 1155.5,804.8 1163.5,810.5 1171.5,802.5 1179.5,799.0 1187.5,797.0 1195.5,787.0 1203.5,802.2 1211.5,800.2 1219.5,807.2 1227.5,803.0 1235.5,805.2 1243.5,804.0 1251.5,799.0 1259.5,800.2 1267.5,804.0 1275.5,800.2 1283.5,800.2 1291.5,802.2 1299.5,802.2 1307.5,800.2 1315.5,805.2 1323.5,795.5 1331.5,790.0 1339.5,796.2 1347.5,794.2 1355.5,793.2 1363.5,792.2 1371.5,800.5 1379.5,814.2 1387.5,817.5 1395.5,814.2 1403.5,814.2 1411.5,816.2 1419.5,816.5 1427.5,818.5 1435.5,814.0 1443.5,816.4 1451.5,810.0 1459.5,805.0 1467.5,807.4 1475.5,803.3 1483.5,806.5" fill="none" stroke="#ff0000" stroke-width="1"/>
</g>
<text x="1874" y="750" fill="#000" class="s" textLength="15.0" lengthAdjust="spacingAndGlyphs">100</text>
<text x="1873.5" y="771" fill="#000" class="s" textLength="10.0" lengthAdjust="spacingAndGlyphs">80</text>
<text x="1873.5" y="811" fill="#000" class="s" textLength="10.0" lengthAdjust="spacingAndGlyphs">50</text>
<text x="1873.5" y="852" fill="#000" class="s" textLength="10.0" lengthAdjust="spacingAndGlyphs">20</text>
<text x="1873.5" y="872" fill="#000" class="s" textLength="5.0" lengthAdjust="spacingAndGlyphs">0</text>
<text x="7" y="752" fill="#000" class="s" textLength="67.5" lengthAdjust="spacingAndGlyphs">RSI(14) 51.1045</text>
<g shape-rendering="crispEdges" fill="#000">
<rect x="3" y="876" width="1" height="3"/>
<rect x="67" y="876" width="1" height="3"/>
<rect x="131" y="876" width="1" height="3"/>
<rect x="195" y="876" width="1" height="3"/>
<rect x="259" y="876" width="1" height="3"/>
<rect x="323" y="876" width="1" height="3"/>
<rect x="387" y="876" width="1" height="3"/>
<rect x="451" y="876" width="1" height="3"/>
<rect x="515" y="876" width="1" height="3"/>
<rect x="579" y="876" width="1" height="3"/>
<rect x="643" y="876" width="1" height="3"/>
<rect x="707" y="876" width="1" height="3"/>
<rect x="771" y="876" width="1" height="3"/>
<rect x="835" y="876" width="1" height="3"/>
<rect x="899" y="876" width="1" height="3"/>
<rect x="963" y="876" width="1" height="3"/>
<rect x="1027" y="876" width="1" height="3"/>
<rect x="1091" y="876" width="1" height="3"/>
<rect x="1155" y="876" width="1" height="3"/>
<rect x="1219" y="876" width="1" height="3"/>
<rect x="1283" y="876" width="1" height="3"/>
<rect x="1347" y="876" width="1" height="3"/>
<rect x="1411" y="876" width="1" height="3"/>
<rect x="1475" y="876" width="1" height="3"/>
</g>
<text x="2.5" y="888" fill="#000" class="s" textLength="50.4" lengthAdjust="spacingAndGlyphs">16 Oct 2019</text>
<text x="66.5" y="888" fill="#000" class="s" textLength="53.1" lengthAdjust="spacingAndGlyphs">16 Oct 21:00</text>
<text x="130.5" y="888" fill="#000" class="s" textLength="53.1" lengthAdjust="spacingAndGlyphs">17 Oct 05:00</text>
<text x="194.5" y="888" fill="#000" class="s" textLength="53.1" lengthAdjust="spacingAndGlyphs">17 Oct 13:00</text>
<text x="258.5" y="888" fill="#000" class="s" textLength="53.1" lengthAdjust="spacingAndGlyphs">17 Oct 21:00</text>
<text x="322.5" y="888" fill="#000" class="s" textLength="53.1" lengthAdjust="spacingAndGlyphs">18 Oct 05:00</text>
<text x="386.5" y="888" fill="#000" class="s" textLength="53.1" lengthAdjust="spacingAndGlyphs">18 Oct 13:00</text>
<text x="450.5" y="888" fill="#000" class="s" textLength="53.1" lengthAdjust="spacingAndGlyphs">18 Oct 21:00</text>
<text x="514.5" y="888" fill="#000" class="s" textLength="53.1" lengthAdjust="spacingAndGlyphs">21 Oct 05:00</text>
<text x="578.5" y="888" fill="#000" class="s" textLength="53.1" lengthAdjust="spacingAndGlyphs">21 Oct 13:00</text>
<text x="642.5" y="888" fill="#000" class="s" textLength="53.1" lengthAdjust="spacingAndGlyphs">21 Oct 21:00</text>
<text x="706.5" y="888" fill="#000" class="s" textLength="53.1" lengthAdjust="spacingAndGlyphs">22 Oct 05:00</text>
<text x="770.5" y="888" fill="#000" class="s" textLength="53.1" lengthAdjust="spacingAndGlyphs">22 Oct 13:00</text>
<text x="834.5" y="888" fill="#000" class="s" textLength="53.1" lengthAdjust="spacingAndGlyphs">22 Oct 21:00</text>
<text x="898.5" y="888" fill="#000" class="s" textLength="53.1" lengthAdjust="spacingAndGlyphs">23 Oct 05:00</text>
<text x="962.5" y="888" fill="#000" class="s" textLength="53.1" lengthAdjust="spacingAndGlyphs">23 Oct 13:00</text>
<text x="1026.5" y="888" fill="#000" class="s" textLength="53.1" lengthAdjust="spacingAndGlyphs">23 Oct 21:00</text>
<text x="1090.5" y="888" fill="#000" class="s" textLength="53.1" lengthAdjust="spacingAndGlyphs">24 Oct 05:00</text>
<text x="1154.5" y="888" fill="#000" class="s" textLength="53.1" lengthAdjust="spacingAndGlyphs">24 Oct 13:00</text>
<text x="1218.5" y="888" fill="#000" class="s" textLength="53.1" lengthAdjust="spacingAndGlyphs">24 Oct 21:00</text>
<text x="1282.5" y="888" fill="#000" class="s" textLength="53.1" lengthAdjust="spacingAndGlyphs">25 Oct 05:00</text>
<text x="1346.5" y="888" fill="#000" class="s" textLength="53.1" lengthAdjust="spacingAndGlyphs">25 Oct 13:00</text>
<text x="1410.5" y="888" fill="#000" class="s" textLength="53.1" lengthAdjust="spacingAndGlyphs">25 Oct 21:00</text>
<text x="1474.5" y="888" fill="#000" class="s" textLength="53.1" lengthAdjust="spacingAndGlyphs">28 Oct 05:00</text>
</svg></body></html>
